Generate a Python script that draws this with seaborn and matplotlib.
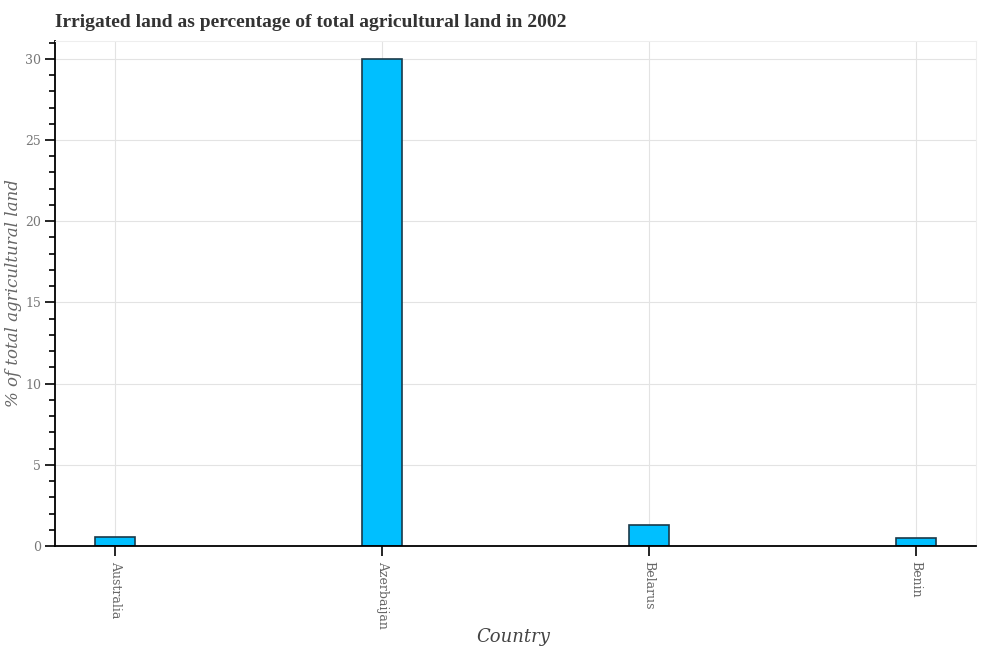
import matplotlib
matplotlib.use("Agg")
import matplotlib.pyplot as plt
import seaborn as sns
import pandas as pd
from matplotlib.ticker import MultipleLocator

countries = ["Australia", "Azerbaijan", "Belarus", "Benin"]
values = [0.57, 30.0, 1.27, 0.5]
title = "Irrigated land as percentage of total agricultural land in 2002"
xlabel = "Country"
ylabel = "% of total agricultural land"

df = pd.DataFrame({"Country": countries, "Value": values})

sns.set_theme(style="ticks")
plt.rcParams["font.family"] = ["DejaVu Serif"]

fig = plt.figure(figsize=(9.83, 6.5), dpi=100)
ax = fig.add_axes([0.056, 0.16, 0.937, 0.777])

sns.barplot(data=df, x="Country", y="Value", ax=ax, color="#00BFFF",
            saturation=1, width=0.15, edgecolor="#1a3a4a", linewidth=1.2)

ax.set_xlim(-0.225, 3.225)
ax.set_ylim(0, 31.1)
ax.yaxis.set_major_locator(MultipleLocator(5))
ax.yaxis.set_minor_locator(MultipleLocator(1))
ax.grid(True, which="major", color="#e3e3e3", linewidth=0.8)
ax.set_axisbelow(True)

for s in ["top", "right"]:
    ax.spines[s].set_visible(True)
    ax.spines[s].set_color("#eeeeee")
    ax.spines[s].set_linewidth(0.8)
for s in ["left", "bottom"]:
    ax.spines[s].set_color("black")
    ax.spines[s].set_linewidth(1.3)

ax.tick_params(axis="y", which="major", length=7, width=1.2, color="black",
               labelsize=9, labelcolor="#777777", left=True, right=False, pad=3)
ax.tick_params(axis="y", which="minor", length=4, width=1.2, color="black",
               left=True, right=False)
ax.tick_params(axis="x", which="major", length=7, width=1.2, color="black",
               labelsize=9, labelcolor="#666666", bottom=True, top=False, pad=4)
ax.tick_params(axis="x", which="minor", bottom=False, top=False)
for lbl in ax.get_xticklabels():
    lbl.set_rotation(270)
    lbl.set_va("top")
    lbl.set_ha("center")

ax.set_xlabel("")
ax.set_ylabel(ylabel, fontsize=12, style="italic", color="#666666")
ax.yaxis.set_label_coords(-0.036, 0.5)
fig.text(0.522, 1 - 637 / 650, xlabel, fontsize=13, style="italic",
         color="#444444", ha="center", va="center")

fig.text(0.056, 0.965, title, fontsize=14, fontweight="bold", color="#333333",
         ha="left", va="center", family="Liberation Serif")

fig.savefig("out.png", dpi=100)
